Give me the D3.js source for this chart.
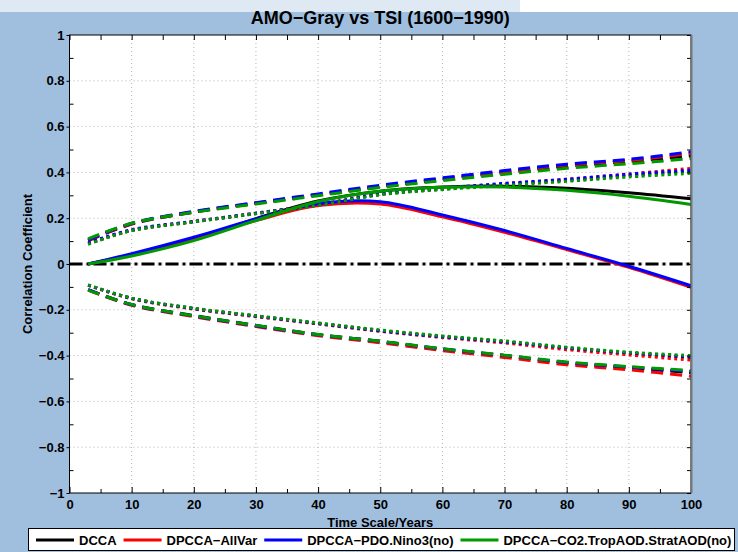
<!DOCTYPE html>
<html lang="en">
<head>
<meta charset="UTF-8">
<title>AMO-Gray vs TSI (1600-1990)</title>
<script src="https://d3js.org/d3.v7.min.js"></script>
<style>
  body { margin: 0; background: #a0bfdf; }
  svg { display: block; font-family: "Liberation Sans", Arial, Helvetica, sans-serif; }
</style>
</head>
<body>
<div id="chart"></div>
<script>
const timeScale = [3, 10, 20, 30, 40, 50, 60, 70, 80, 90, 100];

const seriesNames = ["DCCA", "DPCCA\u2212AllVar", "DPCCA\u2212PDO.Nino3(no)", "DPCCA\u2212CO2.TropAOD.StratAOD(no)"];
const seriesColors = ["#000000", "#ff0000", "#0000ff", "#009900"];

// main coefficient curves (solid)
const coefMain = [
  [0, 0.040, 0.108, 0.198, 0.275, 0.318, 0.336, 0.340, 0.331, 0.311, 0.285],
  [0, 0.040, 0.110, 0.190, 0.255, 0.262, 0.206, 0.138, 0.063, -0.015, -0.102],
  [0, 0.045, 0.117, 0.197, 0.263, 0.272, 0.214, 0.146, 0.068, -0.010, -0.095],
  [0, 0.035, 0.102, 0.190, 0.273, 0.318, 0.335, 0.336, 0.322, 0.296, 0.260]
];
// upper bounds (dashed)
const upperDashed = [
  [0.102, 0.174, 0.226, 0.265, 0.302, 0.338, 0.370, 0.400, 0.428, 0.448, 0.472],
  [0.104, 0.176, 0.228, 0.266, 0.303, 0.340, 0.372, 0.403, 0.432, 0.452, 0.483],
  [0.106, 0.178, 0.230, 0.268, 0.306, 0.344, 0.376, 0.408, 0.436, 0.457, 0.490],
  [0.110, 0.178, 0.226, 0.262, 0.298, 0.334, 0.364, 0.392, 0.418, 0.438, 0.460]
];
// upper bounds (dotted)
const upperDotted = [
  [0.088, 0.146, 0.184, 0.220, 0.258, 0.304, 0.327, 0.347, 0.365, 0.386, 0.405],
  [0.090, 0.148, 0.186, 0.222, 0.260, 0.306, 0.330, 0.350, 0.370, 0.393, 0.418],
  [0.092, 0.150, 0.186, 0.222, 0.258, 0.305, 0.331, 0.352, 0.370, 0.392, 0.410],
  [0.086, 0.146, 0.184, 0.220, 0.256, 0.302, 0.325, 0.343, 0.361, 0.380, 0.396]
];
// lower bounds (dashed)
const lowerDashed = [
  [-0.112, -0.177, -0.225, -0.268, -0.308, -0.338, -0.372, -0.400, -0.432, -0.453, -0.475],
  [-0.114, -0.180, -0.230, -0.273, -0.313, -0.344, -0.378, -0.408, -0.440, -0.462, -0.490],
  [-0.112, -0.178, -0.227, -0.270, -0.309, -0.338, -0.371, -0.399, -0.430, -0.450, -0.470],
  [-0.114, -0.177, -0.226, -0.268, -0.308, -0.337, -0.370, -0.398, -0.428, -0.448, -0.465]
];
// lower bounds (dotted)
const lowerDotted = [
  [-0.092, -0.150, -0.194, -0.227, -0.259, -0.291, -0.317, -0.339, -0.368, -0.390, -0.408],
  [-0.093, -0.152, -0.197, -0.230, -0.262, -0.294, -0.321, -0.345, -0.374, -0.397, -0.420],
  [-0.092, -0.150, -0.195, -0.228, -0.260, -0.292, -0.318, -0.340, -0.366, -0.388, -0.405],
  [-0.091, -0.149, -0.193, -0.226, -0.257, -0.288, -0.314, -0.336, -0.363, -0.385, -0.400]
];

const xTicks = [0, 10, 20, 30, 40, 50, 60, 70, 80, 90, 100];
const xMinorTicks = [5, 15, 25, 35, 45, 55, 65, 75, 85, 95];
const yTicks = [-1, -0.8, -0.6, -0.4, -0.2, 0, 0.2, 0.4, 0.6, 0.8, 1];
const yMinorTicks = [-0.9, -0.7, -0.5, -0.3, -0.1, 0.1, 0.3, 0.5, 0.7, 0.9];

const W = 738, H = 552;
const plot = {left: 69.5, right: 691, top: 35, bottom: 493};

const svg = d3.select("#chart").append("svg")
  .attr("width", W).attr("height", H);

// figure background
svg.append("rect").attr("width", W).attr("height", H).attr("fill", "#a0bfdf");
svg.append("rect").attr("width", 520).attr("height", 12).attr("fill", "#dfe9f4");
svg.append("rect").attr("x", 520).attr("width", W - 520).attr("height", 12).attr("fill", "#ffffff");

const x = d3.scaleLinear().domain([0, 100]).range([plot.left, plot.right]);
const y = d3.scaleLinear().domain([-1, 1]).range([plot.bottom, plot.top]);

svg.append("rect")
  .attr("x", plot.left).attr("y", plot.top)
  .attr("width", plot.right - plot.left).attr("height", plot.bottom - plot.top)
  .attr("fill", "#ffffff");

// grid
const grid = svg.append("g").attr("stroke", "#b5b5b5").attr("stroke-width", 1).attr("stroke-dasharray", "1,3");
grid.selectAll(".gx").data(xTicks.slice(1, -1)).enter().append("line")
  .attr("x1", d => x(d)).attr("x2", d => x(d))
  .attr("y1", plot.top).attr("y2", plot.bottom);
grid.selectAll(".gy").data(yTicks.slice(1, -1)).enter().append("line")
  .attr("y1", d => y(d)).attr("y2", d => y(d))
  .attr("x1", plot.left).attr("x2", plot.right);

// zero reference line
svg.append("line")
  .attr("x1", x(0)).attr("x2", x(100)).attr("y1", y(0)).attr("y2", y(0))
  .attr("stroke", "#000").attr("stroke-width", 3)
  .attr("stroke-dasharray", "13,4,3,4");

const line = d3.line()
  .x((d, i) => x(timeScale[i]))
  .y(d => y(d))
  .curve(d3.curveCatmullRom.alpha(0.5));

const styles = [
  {data: upperDashed, dash: "12,7"},
  {data: lowerDashed, dash: "12,7"},
  {data: upperDotted, dash: "3,3.5"},
  {data: lowerDotted, dash: "3,3.5"},
  {data: coefMain, dash: null}
];

seriesColors.forEach((col, s) => {
  styles.forEach(st => {
    svg.append("path")
      .datum(st.data[s])
      .attr("fill", "none")
      .attr("stroke", col)
      .attr("stroke-width", 3)
      .attr("stroke-dasharray", st.dash)
      .attr("d", line);
  });
});

// axes
const fmt = d3.format("~g");
function styleAxis(g) {
  g.select(".domain").remove();
  g.selectAll("line").attr("stroke", "#000");
  g.selectAll("text").attr("font-size", 13).attr("font-weight", "bold")
    .attr("fill", "#000").attr("font-family", "'Liberation Sans', Arial, sans-serif");
}

svg.append("g").attr("transform", `translate(${plot.left},0)`)
  .call(d3.axisLeft(y).tickValues(yTicks).tickSize(3).tickPadding(2).tickFormat(fmt))
  .call(styleAxis);
svg.append("g").attr("transform", `translate(${plot.left},0)`)
  .call(d3.axisLeft(y).tickValues(yMinorTicks).tickSize(-4).tickFormat(""))
  .call(styleAxis);
svg.append("g").attr("transform", `translate(${plot.right},0)`)
  .call(d3.axisRight(y).tickValues(yTicks.concat(yMinorTicks)).tickSize(-4).tickFormat(""))
  .call(styleAxis);
svg.append("g").attr("transform", `translate(0,${plot.bottom})`)
  .call(d3.axisBottom(x).tickValues(xTicks).tickSize(-6).tickPadding(7).tickFormat(fmt))
  .call(styleAxis);
svg.append("g").attr("transform", `translate(0,${plot.bottom})`)
  .call(d3.axisBottom(x).tickValues(xMinorTicks).tickSize(-4).tickFormat(""))
  .call(styleAxis);
svg.append("g").attr("transform", `translate(0,${plot.top})`)
  .call(d3.axisTop(x).tickValues(xTicks.concat(xMinorTicks)).tickSize(-5).tickFormat(""))
  .call(styleAxis);

// plot frame
svg.append("rect")
  .attr("x", plot.left).attr("y", plot.top)
  .attr("width", plot.right - plot.left).attr("height", plot.bottom - plot.top)
  .attr("fill", "none").attr("stroke", "#000").attr("stroke-width", 1);
svg.append("line")
  .attr("x1", plot.right + 0.5).attr("x2", plot.right + 0.5)
  .attr("y1", plot.top).attr("y2", plot.bottom)
  .attr("stroke", "#777").attr("stroke-width", 2);

// titles
svg.append("text")
  .attr("x", (plot.left + plot.right) / 2).attr("y", 24)
  .attr("text-anchor", "middle").attr("font-size", 18).attr("font-weight", "bold")
  .text("AMO\u2212Gray vs TSI (1600\u22121990)");

svg.append("text")
  .attr("x", (plot.left + plot.right) / 2).attr("y", 527)
  .attr("text-anchor", "middle").attr("font-size", 13).attr("font-weight", "bold")
  .text("Time Scale/Years");

svg.append("text")
  .attr("transform", `translate(32,${(plot.top + plot.bottom) / 2}) rotate(-90)`)
  .attr("text-anchor", "middle").attr("font-size", 13).attr("font-weight", "bold")
  .text("Correlation Coefficient");

// legend
const legend = svg.append("g");
legend.append("rect")
  .attr("x", 28.5).attr("y", 528.5).attr("width", 706).attr("height", 22)
  .attr("fill", "#fff").attr("stroke", "#000").attr("stroke-width", 1);

let lx = 36;
seriesNames.forEach((name, i) => {
  legend.append("line")
    .attr("x1", lx).attr("x2", lx + 38).attr("y1", 540).attr("y2", 540)
    .attr("stroke", seriesColors[i]).attr("stroke-width", 3);
  const t = legend.append("text")
    .attr("x", lx + 43).attr("y", 544.5)
    .attr("font-size", 13).attr("font-weight", "bold")
    .text(name);
  lx += 43 + t.node().getComputedTextLength() + 7;
});
</script>
</body>
</html>
